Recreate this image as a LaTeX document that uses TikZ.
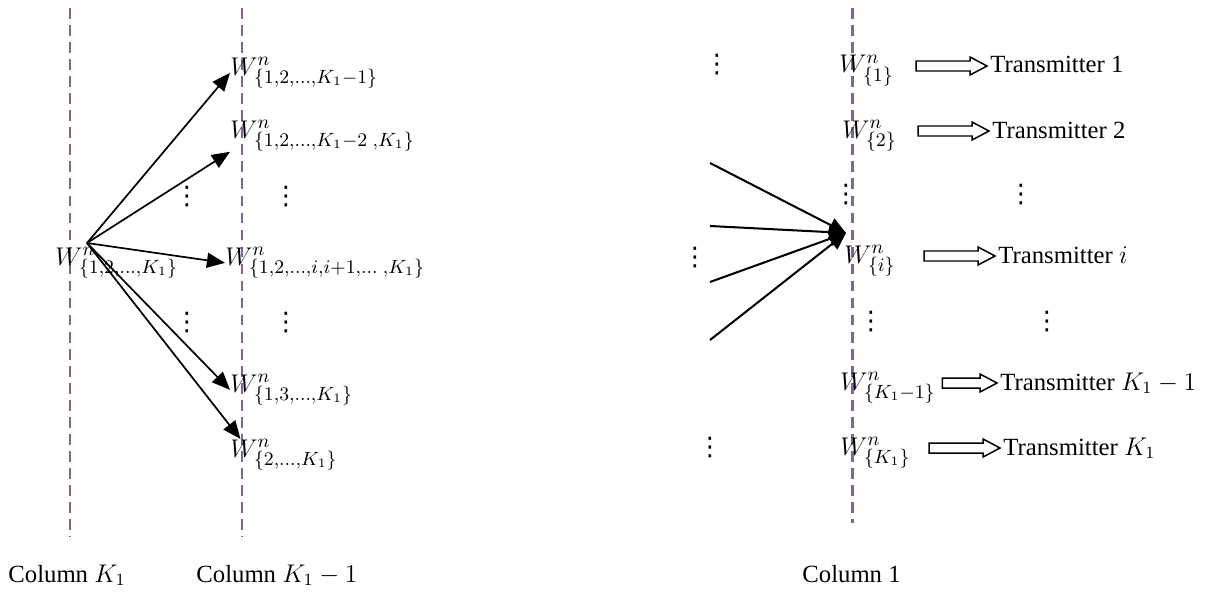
\documentclass[tikz,border=0pt]{standalone}
\usepackage{fontspec}
\setmainfont{Liberation Serif}
\newfontfamily\dotsfont{DejaVu Sans}
\usetikzlibrary{arrows.meta,calc}
\definecolor{colpurple}{RGB}{128,100,162}
\tikzset{
  column line/.style={colpurple, line width=1.4pt, dash pattern=on 5pt off 3pt},
  fan/.style={-{Triangle[length=8.5pt,width=7pt]}, line width=0.8pt},
  fan in/.style={-{Triangle[length=8pt,width=7pt]}, line width=0.95pt},
  wnode/.style={anchor=base west, inner sep=0pt, font=\fontsize{12.5pt}{15pt}\selectfont},
  textnode/.style={anchor=base west, inner sep=0pt},
  dotsnode/.style={inner sep=0pt, font=\dotsfont\fontsize{12pt}{14pt}\selectfont},
  hollow/.style={draw, line width=0.7pt, fill=white},
}
% hollow block arrow ending just before the transmitter label
\newcommand{\hollowarrow}[2]{%
  \coordinate (ha-e) at ($(#2.base west)+(-3,-7)$);
  \path let \p1=(#1.east), \p2=(ha-e) in
    coordinate (ha-s) at ({max(\x1+3pt,\x2-33.3pt)},\y2);
  \draw[hollow] ($(ha-s)+(0,-5)$) -- ($(ha-e)+(-17,-5)$) -- ($(ha-e)+(-17,-9)$)
    -- (ha-e) -- ($(ha-e)+(-17,9)$) -- ($(ha-e)+(-17,5)$) -- ($(ha-s)+(0,5)$) -- cycle;}
\begin{document}
\begin{tikzpicture}[x=0.0165cm, y=-0.0165cm, font=\fontsize{11.6pt}{14pt}\selectfont]
  \useasboundingbox (0,0) rectangle (1224,594);
  % --- columns ---
  \draw[column line] (70,8) -- (70,537);
  \draw[column line] (242,8) -- (242,537);
  \draw[column line] (852,8) -- (852,523);
  \node[textnode] (colK) at (8,582) {Column $K_1$};
  \node[textnode] (colKm) at (196,582) {Column $K_1-1$};
  \node[textnode] (colone) at (802,582) {Column 1};

  % --- column K_1 -> column K_1-1 ---
  \node[wnode] (s) at (55,265) {$W^{n}_{\{1,2,\dots,K_1\}}$};
  \coordinate (hub) at (87,243);
  \node[wnode] (t1) at (230,75) {$W^{n}_{\{1,2,\dots,K_1-1\}}$};
  \node[wnode] (t2) at (230,138) {$W^{n}_{\{1,2,\dots,K_1-2\;,K_1\}}$};
  \node[wnode] (t3) at (225,265) {$W^{n}_{\{1,2,\dots,i,i+1,\dots\;,K_1\}}$};
  \node[wnode] (t4) at (230,392) {$W^{n}_{\{1,3,\dots,K_1\}}$};
  \node[wnode] (t5) at (230,457) {$W^{n}_{\{2,\dots,K_1\}}$};
  \draw[fan] (hub) -- (t1.west);
  \draw[fan] (hub) -- (t2.south west);
  \draw[fan] (hub) -- (t3.west);
  \draw[fan] (hub) -- (t4.west);
  \draw[fan] (hub) -- (t5.160);
  \node[dotsnode] (da1) at (187,197) {⋮};
  \node[dotsnode] (da2) at (286,197) {⋮};
  \node[dotsnode] (db1) at (187,323) {⋮};
  \node[dotsnode] (db2) at (286,323) {⋮};

  % --- column 1 -> transmitters ---
  \node[wnode] (r1) at (839,73) {$W^{n}_{\{1\}}$};
  \node[wnode] (r2) at (842,138) {$W^{n}_{\{2\}}$};
  \node[wnode] (ri) at (844,263) {$W^{n}_{\{i\}}$};
  \node[wnode] (rkm) at (840,390) {$W^{n}_{\{K_1-1\}}$};
  \node[wnode] (rk) at (840,455) {$W^{n}_{\{K_1\}}$};
  \node[textnode] (x1) at (990,73) {Transmitter 1};
  \node[textnode] (x2) at (992,138) {Transmitter 2};
  \node[textnode] (xi) at (998,263) {Transmitter $i$};
  \node[textnode] (xkm) at (1000,390) {Transmitter $K_1-1$};
  \node[textnode] (xk) at (1003,455) {Transmitter $K_1$};
  \hollowarrow{r1}{x1}
  \hollowarrow{r2}{x2}
  \hollowarrow{ri}{xi}
  \hollowarrow{rkm}{xkm}
  \hollowarrow{rk}{xk}

  % incoming arrows into W_{i}
  \coordinate (hubr) at (846,233);
  \coordinate (in1) at (710,163);
  \coordinate (in2) at (710,226);
  \coordinate (in3) at (710,282);
  \coordinate (in4) at (710,340);
  \foreach \c in {in1,in2,in3,in4}
    \draw[fan in] (\c) -- (hubr);

  \node[dotsnode] (dc1) at (717,65) {⋮};
  \node[dotsnode] (dc2) at (846,195) {⋮};
  \node[dotsnode] (dc3) at (1021,195) {⋮};
  \node[dotsnode] (dc4) at (695,258) {⋮};
  \node[dotsnode] (dc5) at (871,322) {⋮};
  \node[dotsnode] (dc6) at (1047,322) {⋮};
  \node[dotsnode] (dc7) at (710,448) {⋮};
\end{tikzpicture}
\end{document}
